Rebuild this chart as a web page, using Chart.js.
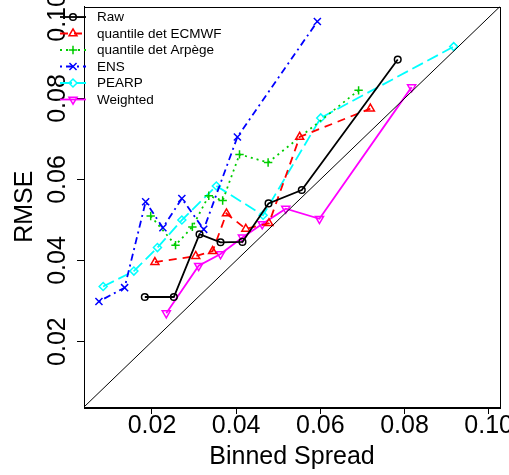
<!DOCTYPE html>
<html><head><meta charset="utf-8">
<script src="https://cdn.jsdelivr.net/npm/chart.js@4.4.1/dist/chart.umd.min.js"></script>
<style>html,body{margin:0;padding:0;background:#fff;overflow:hidden}</style>
</head><body>
<canvas id="c" width="509" height="475" style="display:block;width:509px;height:475px"></canvas>
<script>
// ---- data ----
const seriesNames = ['Raw', 'quantile det ECMWF', 'quantile det Arpège', 'ENS', 'PEARP', 'Weighted'];

const rawSpread      = [0.0183, 0.0252, 0.0313, 0.0363, 0.0415, 0.0477, 0.0556, 0.0784];
const rawRmse        = [0.0310, 0.0310, 0.0465, 0.0445, 0.0446, 0.0541, 0.0574, 0.0896];

const ecmwfSpread    = [0.0207, 0.0304, 0.0344, 0.0377, 0.0423, 0.0478, 0.0551, 0.0719];
const ecmwfRmse      = [0.0396, 0.0411, 0.0423, 0.0516, 0.0478, 0.0492, 0.0705, 0.0775];

const arpegeSpread   = [0.0197, 0.0256, 0.0296, 0.0335, 0.0368, 0.0408, 0.0476, 0.0691];
const arpegeRmse     = [0.0510, 0.0438, 0.0483, 0.0560, 0.0548, 0.0662, 0.0642, 0.0820];

const ensSpread      = [0.0074, 0.0135, 0.0185, 0.0226, 0.0271, 0.0323, 0.0403, 0.0593];
const ensRmse        = [0.0299, 0.0333, 0.0545, 0.0481, 0.0553, 0.0477, 0.0705, 0.0990];

const pearpSpread    = [0.0084, 0.0157, 0.0213, 0.0271, 0.0353, 0.0464, 0.0601, 0.0917];
const pearpRmse      = [0.0336, 0.0374, 0.0432, 0.0500, 0.0584, 0.0512, 0.0752, 0.0928];

const weightedSpread = [0.0234, 0.0311, 0.0363, 0.0415, 0.0462, 0.0518, 0.0598, 0.0817];
const weightedRmse   = [0.0270, 0.0387, 0.0416, 0.0457, 0.0490, 0.0528, 0.0503, 0.0828];

const diagonal   = [0, 0.12];          // y = x reference line
const tickValues = [0.02, 0.04, 0.06, 0.08, 0.10];
const tickLabels = ['0.02', '0.04', '0.06', '0.08', '0.10'];
const axisMin = 0.00385, axisMax = 0.1027;

// ---- chart ----
const FONT = "'Liberation Sans', Arial, Helvetica, sans-serif";
const pts = (xs, ys) => xs.map((x, i) => ({x: x, y: ys[i]}));

function series(name, xs, ys, color, dash, style, radius, rot) {
  return {
    label: name, data: pts(xs, ys), showLine: true, inLegend: true,
    borderColor: color, backgroundColor: 'rgba(0,0,0,0)', borderWidth: 1.8, borderDash: dash,
    pointStyle: style, pointRadius: radius, pointRotation: rot || 0,
    pointBorderColor: color, pointBackgroundColor: 'rgba(0,0,0,0)', pointBorderWidth: 1.5,
    tension: 0
  };
}

const datasets = [
  {label: 'diag', data: diagonal.map(v => ({x: v, y: v})), showLine: true, borderColor: '#000',
   borderWidth: 1, pointRadius: 0, inLegend: false},
  series(seriesNames[0], rawSpread, rawRmse, '#000000', [], 'circle', 3.3),
  series(seriesNames[1], ecmwfSpread, ecmwfRmse, '#FF0000', [8, 6], 'triangle', 4.6),
  series(seriesNames[2], arpegeSpread, arpegeRmse, '#00CD00', [2, 4], 'cross', 4.2),
  series(seriesNames[3], ensSpread, ensRmse, '#0000FF', [2, 4, 7, 4], 'crossRot', 5),
  series(seriesNames[4], pearpSpread, pearpRmse, '#00FFFF', [12, 5], 'rectRot', 4),
  series(seriesNames[5], weightedSpread, weightedRmse, '#FF00FF', [], 'triangle', 4.7, 180)
];

const boxPlugin = {
  id: 'box',
  afterDraw(chart) {
    const {ctx, chartArea: a} = chart;
    ctx.save();
    ctx.strokeStyle = '#000'; ctx.lineWidth = 1; ctx.setLineDash([]);
    ctx.strokeRect(Math.round(a.left) + 0.5, Math.round(a.top) + 0.5,
                   Math.round(a.right - a.left), Math.round(a.bottom - a.top));
    ctx.restore();
  }
};

const legendPlugin = {
  id: 'rlegend',
  afterDraw(chart) {
    const ctx = chart.ctx;
    const x0 = 60, x1 = 86, xm = 73, xt = 97, y0 = 17, dy = 16.5;
    let row = 0;
    ctx.save();
    chart.data.datasets.forEach(ds => {
      if (!ds.inLegend) return;
      const y = y0 + row * dy;
      ctx.strokeStyle = ds.borderColor; ctx.lineWidth = ds.borderWidth;
      ctx.setLineDash(ds.borderDash || []);
      ctx.beginPath(); ctx.moveTo(x0, y); ctx.lineTo(x1, y); ctx.stroke();
      ctx.setLineDash([]);
      ctx.fillStyle = 'rgba(0,0,0,0)';
      ctx.lineWidth = ds.pointBorderWidth;
      Chart.helpers.drawPoint(ctx, {pointStyle: ds.pointStyle, rotation: ds.pointRotation || 0,
        radius: ds.pointRadius, borderWidth: ds.pointBorderWidth}, xm, y);
      ctx.fillStyle = '#000';
      ctx.font = '13.5px ' + FONT;
      ctx.textBaseline = 'middle'; ctx.textAlign = 'left';
      ctx.fillText(ds.label, xt, y + 0.5);
      row++;
    });
    ctx.restore();
  }
};

const setTicks = s => { s.ticks = tickValues.map(v => ({value: v})); };
const fmt = v => { const i = tickValues.findIndex(t => Math.abs(t - v) < 1e-9); return i >= 0 ? tickLabels[i] : ''; };

new Chart(document.getElementById('c'), {
  type: 'scatter',
  data: {datasets: datasets},
  options: {
    responsive: false, animation: false, devicePixelRatio: 1,
    layout: {padding: {left: 0, top: 6, right: 9, bottom: 0}},
    plugins: {legend: {display: false}, tooltip: {enabled: false}},
    scales: {
      x: {
        type: 'linear', min: axisMin, max: axisMax,
        afterBuildTicks: setTicks,
        afterFit: s => { s.height = 68; s.paddingLeft = 0; s.paddingRight = 0; },
        ticks: {autoSkip: false, minRotation: 0, maxRotation: 0, padding: 0, color: '#000',
                font: {family: FONT, size: 25, lineHeight: 1}, callback: v => fmt(v)},
        grid: {drawOnChartArea: false, drawTicks: true, tickLength: 7, color: '#000', tickWidth: 1},
        border: {display: true, color: '#000', width: 1},
        title: {display: true, text: 'Binned Spread', color: '#000',
                font: {family: FONT, size: 25}, padding: {top: 0, bottom: 3}}
      },
      y: {
        type: 'linear', min: axisMin, max: axisMax,
        afterBuildTicks: setTicks,
        afterFit: s => { s.width = 84; s.paddingTop = 0; s.paddingBottom = 0; },
        ticks: {autoSkip: false, minRotation: 90, maxRotation: 90, crossAlign: 'center', padding: -5,
                color: '#000', font: {family: FONT, size: 25, lineHeight: 1}, callback: v => fmt(v)},
        grid: {drawOnChartArea: false, drawTicks: true, tickLength: 7, color: '#000', tickWidth: 1},
        border: {display: true, color: '#000', width: 1},
        title: {display: true, text: 'RMSE', color: '#000',
                font: {family: FONT, size: 25}, padding: {top: 10.5, bottom: 0}}
      }
    }
  },
  plugins: [boxPlugin, legendPlugin]
});
</script>
</body></html>
